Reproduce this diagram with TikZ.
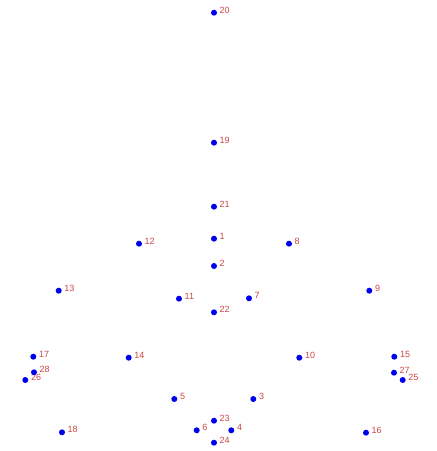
\documentclass[tikz,border=0pt]{standalone}
\usepackage{fontspec}
\setmainfont{Liberation Sans}
\definecolor{dotblue}{RGB}{0,0,240}
\definecolor{lblred}{RGB}{205,70,70}
\begin{document}
\begin{tikzpicture}[x=1pt,y=-1pt,
  pt/.style={circle,fill=dotblue,inner sep=0pt,minimum size=6pt},
  lbl/.style={text=lblred,font=\fontsize{9}{9}\selectfont,inner sep=0pt,anchor=base west}]
\useasboundingbox[fill=white] (0,0) rectangle (437,451);
\foreach \n/\x/\y in {
  1/214/238.7, 2/214/266, 3/253.3/399, 4/231.3/430.3, 5/174.3/399,
  6/196.7/430.3, 7/249/298.3, 8/289/243.7, 9/369.3/290.7, 10/299.3/357.7,
  11/179/298.7, 12/139/243.7, 13/58.7/290.7, 14/128.7/357.7, 15/394.3/356.7,
  16/366/432.7, 17/33.3/356.7, 18/62/432.3, 19/214/142.7, 20/214/12.7,
  21/214/206.7, 22/214/312.3, 23/214/420.7, 24/214/442.7, 25/402.7/380,
  26/25.3/380, 27/394/372.7, 28/34/372.3}{
  \node[lbl] (l\n) at (\x+5.5,\y+0.5) {\n};
}
\foreach \n/\x/\y in {
  1/214/238.7, 2/214/266, 3/253.3/399, 4/231.3/430.3, 5/174.3/399,
  6/196.7/430.3, 7/249/298.3, 8/289/243.7, 9/369.3/290.7, 10/299.3/357.7,
  11/179/298.7, 12/139/243.7, 13/58.7/290.7, 14/128.7/357.7, 15/394.3/356.7,
  16/366/432.7, 17/33.3/356.7, 18/62/432.3, 19/214/142.7, 20/214/12.7,
  21/214/206.7, 22/214/312.3, 23/214/420.7, 24/214/442.7, 25/402.7/380,
  26/25.3/380, 27/394/372.7, 28/34/372.3}{
  \node[pt] (p\n) at (\x,\y) {};
}
\end{tikzpicture}
\end{document}
